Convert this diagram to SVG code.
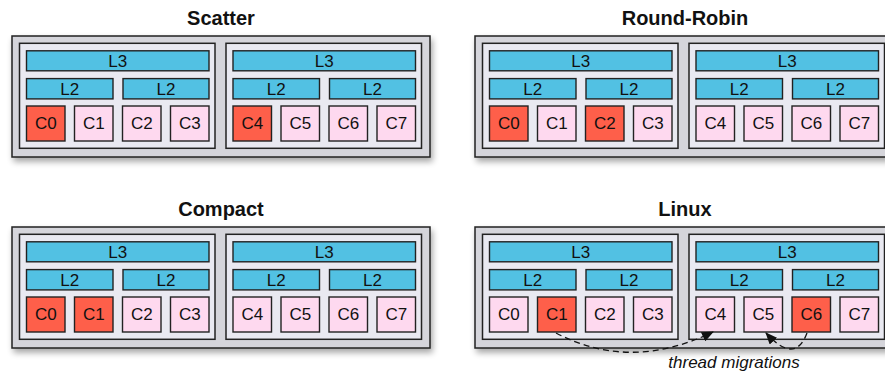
<svg xmlns="http://www.w3.org/2000/svg" width="885" height="376" viewBox="0 0 885 376">
<style>
.outer{fill:#d5d5db;stroke:#222;stroke-width:1.5}
.sock{fill:#e9e9f1;stroke:#222;stroke-width:1.5}
.cache{fill:#52c1e3;stroke:#222;stroke-width:1.4}
.core{fill:#fed9ef;stroke:#222;stroke-width:1.4}
.act{fill:#fe5f4a}
text{font-family:"Liberation Sans",Arial,sans-serif;fill:#111}
.lbl{font-size:17px;text-anchor:middle}
.title{font-size:20px;font-weight:bold;text-anchor:middle}
.mig{font-size:17px;font-style:italic;text-anchor:middle}
.conn{fill:none;stroke:#111;stroke-width:1.3;stroke-dasharray:6,4}
</style>
<defs>
<filter id="sh" x="-5%" y="-10%" width="115%" height="130%">
<feGaussianBlur in="SourceAlpha" stdDeviation="3"/>
<feOffset dx="2" dy="4" result="b"/>
<feComponentTransfer><feFuncA type="linear" slope="0.35"/></feComponentTransfer>
<feMerge><feMergeNode/><feMergeNode in="SourceGraphic"/></feMerge>
</filter>
<marker id="ah" viewBox="0 0 12 10" refX="11" refY="5" markerWidth="12" markerHeight="10" markerUnits="userSpaceOnUse" orient="auto">
<path d="M0,0 L12,5 L0,10 z" fill="#111"/>
</marker>
<g id="socket">
<rect class="sock" x="0" y="0" width="195.5" height="105"/>
<rect class="cache" x="7" y="7.5" width="182.5" height="20"/>
<text class="lbl" x="98.25" y="23.5">L3</text>
<rect class="cache" x="7" y="35.3" width="86.5" height="20.3"/>
<text class="lbl" x="50.25" y="51.5">L2</text>
<rect class="cache" x="103.5" y="35.3" width="86" height="20.3"/>
<text class="lbl" x="146.5" y="51.5">L2</text>
</g>
</defs>

<!-- Scatter -->
<g id="scatter">
<text class="title" x="221" y="25">Scatter</text>
<rect class="outer" x="12" y="36" width="418" height="121" filter="url(#sh)"/>
<g id="scatter-s0" transform="translate(19.5,43.3)">
<use href="#socket"/>
<rect class="core act" x="7" y="62.7" width="38.5" height="35"/><text class="lbl" x="26.25" y="86.2">C0</text>
<rect class="core" x="55" y="62.7" width="38.5" height="35"/><text class="lbl" x="74.25" y="86.2">C1</text>
<rect class="core" x="103" y="62.7" width="38.5" height="35"/><text class="lbl" x="122.25" y="86.2">C2</text>
<rect class="core" x="151" y="62.7" width="38.5" height="35"/><text class="lbl" x="170.25" y="86.2">C3</text>
</g>
<g id="scatter-s1" transform="translate(226,43.3)">
<use href="#socket"/>
<rect class="core act" x="7" y="62.7" width="38.5" height="35"/><text class="lbl" x="26.25" y="86.2">C4</text>
<rect class="core" x="55" y="62.7" width="38.5" height="35"/><text class="lbl" x="74.25" y="86.2">C5</text>
<rect class="core" x="103" y="62.7" width="38.5" height="35"/><text class="lbl" x="122.25" y="86.2">C6</text>
<rect class="core" x="151" y="62.7" width="38.5" height="35"/><text class="lbl" x="170.25" y="86.2">C7</text>
</g>
</g>

<!-- Round-Robin -->
<g id="roundrobin" transform="translate(463,0)">
<text class="title" x="222" y="25">Round-Robin</text>
<rect class="outer" x="12" y="36" width="418" height="121" filter="url(#sh)"/>
<g id="rr-s0" transform="translate(19.5,43.3)">
<use href="#socket"/>
<rect class="core act" x="7" y="62.7" width="38.5" height="35"/><text class="lbl" x="26.25" y="86.2">C0</text>
<rect class="core" x="55" y="62.7" width="38.5" height="35"/><text class="lbl" x="74.25" y="86.2">C1</text>
<rect class="core act" x="103" y="62.7" width="38.5" height="35"/><text class="lbl" x="122.25" y="86.2">C2</text>
<rect class="core" x="151" y="62.7" width="38.5" height="35"/><text class="lbl" x="170.25" y="86.2">C3</text>
</g>
<g id="rr-s1" transform="translate(226,43.3)">
<use href="#socket"/>
<rect class="core" x="7" y="62.7" width="38.5" height="35"/><text class="lbl" x="26.25" y="86.2">C4</text>
<rect class="core" x="55" y="62.7" width="38.5" height="35"/><text class="lbl" x="74.25" y="86.2">C5</text>
<rect class="core" x="103" y="62.7" width="38.5" height="35"/><text class="lbl" x="122.25" y="86.2">C6</text>
<rect class="core" x="151" y="62.7" width="38.5" height="35"/><text class="lbl" x="170.25" y="86.2">C7</text>
</g>
</g>

<!-- Compact -->
<g id="compact" transform="translate(0,191)">
<text class="title" x="221" y="25">Compact</text>
<rect class="outer" x="12" y="36" width="418" height="121" filter="url(#sh)"/>
<g id="compact-s0" transform="translate(19.5,43.3)">
<use href="#socket"/>
<rect class="core act" x="7" y="62.7" width="38.5" height="35"/><text class="lbl" x="26.25" y="86.2">C0</text>
<rect class="core act" x="55" y="62.7" width="38.5" height="35"/><text class="lbl" x="74.25" y="86.2">C1</text>
<rect class="core" x="103" y="62.7" width="38.5" height="35"/><text class="lbl" x="122.25" y="86.2">C2</text>
<rect class="core" x="151" y="62.7" width="38.5" height="35"/><text class="lbl" x="170.25" y="86.2">C3</text>
</g>
<g id="compact-s1" transform="translate(226,43.3)">
<use href="#socket"/>
<rect class="core" x="7" y="62.7" width="38.5" height="35"/><text class="lbl" x="26.25" y="86.2">C4</text>
<rect class="core" x="55" y="62.7" width="38.5" height="35"/><text class="lbl" x="74.25" y="86.2">C5</text>
<rect class="core" x="103" y="62.7" width="38.5" height="35"/><text class="lbl" x="122.25" y="86.2">C6</text>
<rect class="core" x="151" y="62.7" width="38.5" height="35"/><text class="lbl" x="170.25" y="86.2">C7</text>
</g>
</g>

<!-- Linux -->
<g id="linux" transform="translate(463,191)">
<text class="title" x="222" y="25">Linux</text>
<rect class="outer" x="12" y="36" width="418" height="121" filter="url(#sh)"/>
<g id="linux-s0" transform="translate(19.5,43.3)">
<use href="#socket"/>
<rect class="core" x="7" y="62.7" width="38.5" height="35"/><text class="lbl" x="26.25" y="86.2">C0</text>
<rect class="core act" x="55" y="62.7" width="38.5" height="35"/><text class="lbl" x="74.25" y="86.2">C1</text>
<rect class="core" x="103" y="62.7" width="38.5" height="35"/><text class="lbl" x="122.25" y="86.2">C2</text>
<rect class="core" x="151" y="62.7" width="38.5" height="35"/><text class="lbl" x="170.25" y="86.2">C3</text>
</g>
<g id="linux-s1" transform="translate(226,43.3)">
<use href="#socket"/>
<rect class="core" x="7" y="62.7" width="38.5" height="35"/><text class="lbl" x="26.25" y="86.2">C4</text>
<rect class="core" x="55" y="62.7" width="38.5" height="35"/><text class="lbl" x="74.25" y="86.2">C5</text>
<rect class="core act" x="103" y="62.7" width="38.5" height="35"/><text class="lbl" x="122.25" y="86.2">C6</text>
<rect class="core" x="151" y="62.7" width="38.5" height="35"/><text class="lbl" x="170.25" y="86.2">C7</text>
</g>
</g>

<g id="connectors">
<path class="conn" d="M556,333 Q630,372 713,332" marker-end="url(#ah)"/>
<path class="conn" d="M807,333 Q795,365 766,333" marker-end="url(#ah)"/>
<text class="mig" x="734" y="368">thread migrations</text>
</g>
</svg>
